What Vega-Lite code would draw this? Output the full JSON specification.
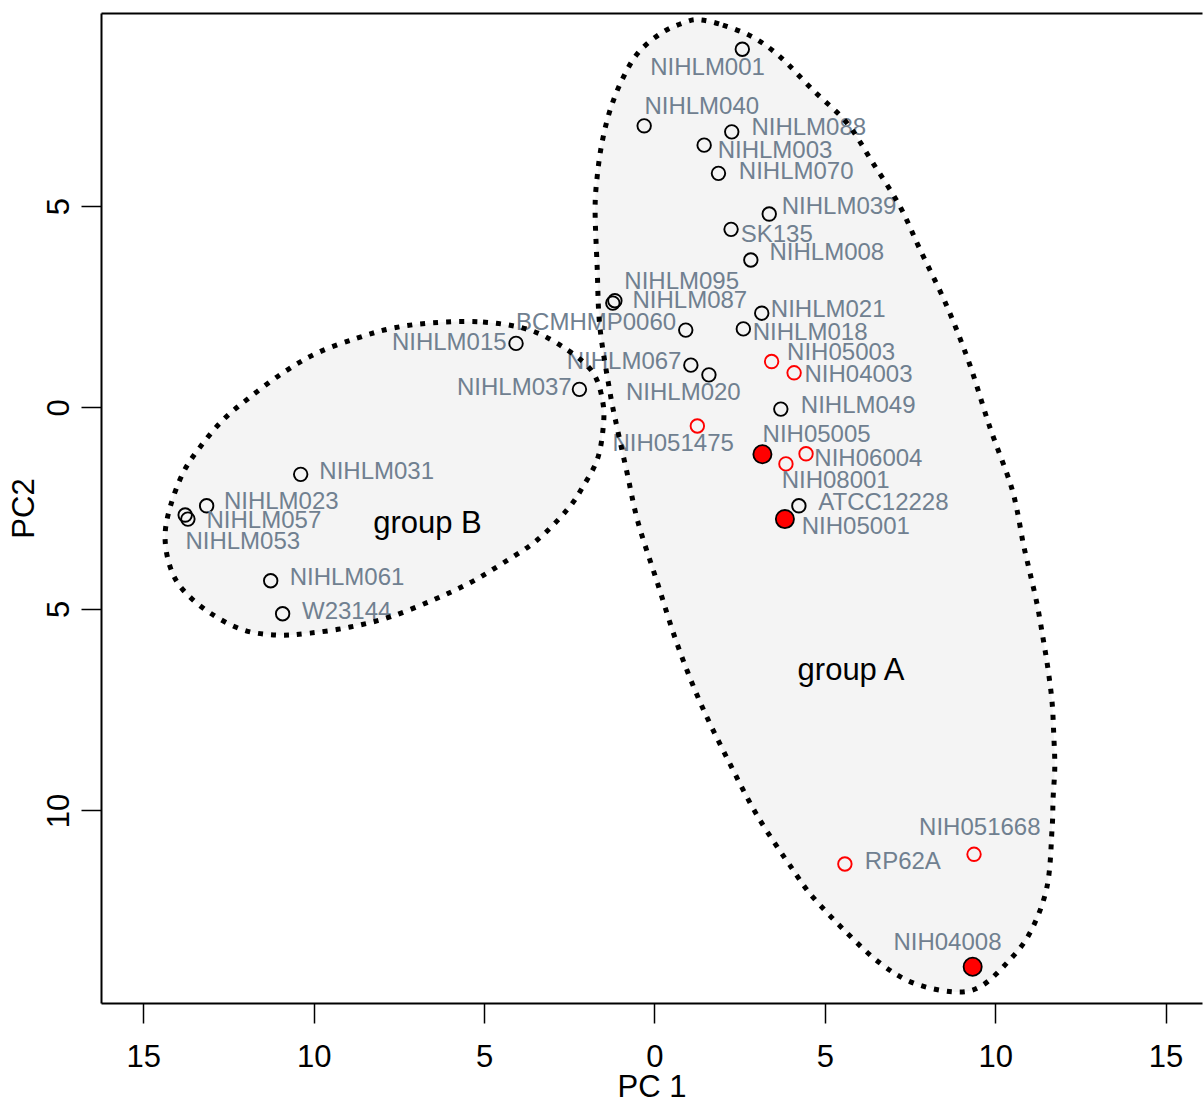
{
  "$schema": "https://vega.github.io/schema/vega-lite/v6.json",
  "width": 1101,
  "height": 990,
  "autosize": "none",
  "padding": {"left": 101, "top": 13, "right": 1, "bottom": 103},
  "background": "white",
  "config": {"view": {"stroke": null}, "font": "Liberation Sans"},
  "datasets": {
    "ellipses": [
      {"g":"A","i":0,"x":1.34,"y":9.62},{"g":"A","i":1,"x":2.01,"y":9.49},{"g":"A","i":2,"x":2.89,"y":9.19},
      {"g":"A","i":3,"x":3.69,"y":8.70},{"g":"A","i":4,"x":4.65,"y":7.88},{"g":"A","i":5,"x":5.65,"y":7.06},
      {"g":"A","i":6,"x":6.41,"y":6.07},{"g":"A","i":7,"x":7.20,"y":5.00},{"g":"A","i":8,"x":7.79,"y":3.93},
      {"g":"A","i":9,"x":8.58,"y":2.52},{"g":"A","i":10,"x":9.26,"y":1.05},{"g":"A","i":11,"x":9.84,"y":-0.48},
      {"g":"A","i":12,"x":10.43,"y":-1.85},{"g":"A","i":13,"x":10.64,"y":-2.54},{"g":"A","i":14,"x":10.82,"y":-3.36},
      {"g":"A","i":15,"x":11.02,"y":-4.10},{"g":"A","i":16,"x":11.23,"y":-4.88},{"g":"A","i":17,"x":11.40,"y":-5.70},
      {"g":"A","i":18,"x":11.55,"y":-6.49},{"g":"A","i":19,"x":11.67,"y":-7.31},{"g":"A","i":20,"x":11.72,"y":-8.13},
      {"g":"A","i":21,"x":11.75,"y":-8.92},{"g":"A","i":22,"x":11.70,"y":-9.70},{"g":"A","i":23,"x":11.67,"y":-10.46},
      {"g":"A","i":24,"x":11.52,"y":-11.90},{"g":"A","i":25,"x":11.02,"y":-13.04},{"g":"A","i":26,"x":10.34,"y":-13.79},
      {"g":"A","i":27,"x":9.55,"y":-14.38},{"g":"A","i":28,"x":8.76,"y":-14.50},{"g":"A","i":29,"x":7.59,"y":-14.28},
      {"g":"A","i":30,"x":6.62,"y":-13.79},{"g":"A","i":31,"x":5.65,"y":-13.04},{"g":"A","i":32,"x":4.65,"y":-12.15},
      {"g":"A","i":33,"x":4.07,"y":-11.48},{"g":"A","i":34,"x":3.04,"y":-10.16},{"g":"A","i":35,"x":2.16,"y":-8.75},
      {"g":"A","i":36,"x":1.34,"y":-7.31},{"g":"A","i":37,"x":0.66,"y":-5.85},{"g":"A","i":38,"x":0.08,"y":-4.33},
      {"g":"A","i":39,"x":-0.48,"y":-2.85},{"g":"A","i":40,"x":-0.80,"y":-1.63},{"g":"A","i":41,"x":-1.10,"y":-0.48},
      {"g":"A","i":42,"x":-1.30,"y":0.36},{"g":"A","i":43,"x":-1.60,"y":2.00},{"g":"A","i":44,"x":-1.68,"y":3.49},
      {"g":"A","i":45,"x":-1.74,"y":4.90},{"g":"A","i":46,"x":-1.68,"y":5.72},{"g":"A","i":47,"x":-1.54,"y":6.56},
      {"g":"A","i":48,"x":-1.30,"y":7.38},{"g":"A","i":49,"x":-0.95,"y":8.13},{"g":"A","i":50,"x":-0.48,"y":8.80},
      {"g":"A","i":51,"x":0.22,"y":9.30},{"g":"A","i":52,"x":0.93,"y":9.57},
      {"g":"B","i":0,"x":-6.50,"y":2.10},{"g":"B","i":1,"x":-5.03,"y":2.12},{"g":"B","i":2,"x":-3.65,"y":1.92},
      {"g":"B","i":3,"x":-2.56,"y":1.43},{"g":"B","i":4,"x":-1.80,"y":0.86},{"g":"B","i":5,"x":-1.51,"y":0.11},
      {"g":"B","i":6,"x":-1.51,"y":-0.56},{"g":"B","i":7,"x":-1.68,"y":-1.30},{"g":"B","i":8,"x":-2.10,"y":-1.97},
      {"g":"B","i":9,"x":-2.56,"y":-2.54},{"g":"B","i":10,"x":-3.44,"y":-3.29},{"g":"B","i":11,"x":-4.44,"y":-3.86},
      {"g":"B","i":12,"x":-5.41,"y":-4.35},{"g":"B","i":13,"x":-6.50,"y":-4.78},{"g":"B","i":14,"x":-7.76,"y":-5.20},
      {"g":"B","i":15,"x":-8.93,"y":-5.45},{"g":"B","i":16,"x":-10.10,"y":-5.60},{"g":"B","i":17,"x":-11.07,"y":-5.65},
      {"g":"B","i":18,"x":-12.07,"y":-5.52},{"g":"B","i":19,"x":-13.04,"y":-5.10},{"g":"B","i":20,"x":-13.83,"y":-4.53},
      {"g":"B","i":21,"x":-14.21,"y":-3.96},{"g":"B","i":22,"x":-14.36,"y":-3.21},{"g":"B","i":23,"x":-14.21,"y":-2.47},
      {"g":"B","i":24,"x":-13.83,"y":-1.62},{"g":"B","i":25,"x":-13.33,"y":-0.98},{"g":"B","i":26,"x":-12.66,"y":-0.31},
      {"g":"B","i":27,"x":-11.86,"y":0.26},{"g":"B","i":28,"x":-10.90,"y":0.86},{"g":"B","i":29,"x":-9.90,"y":1.35},
      {"g":"B","i":30,"x":-8.73,"y":1.72},{"g":"B","i":31,"x":-7.67,"y":1.97}
    ],
    "pts": [
      {"name":"NIHLM001","type":"black","x":2.58,"y":8.89,"lx":1.56,"ly":8.42},
      {"name":"NIHLM040","type":"black","x":-0.30,"y":6.99,"lx":1.39,"ly":7.45},
      {"name":"NIHLM088","type":"black","x":2.27,"y":6.84,"lx":4.53,"ly":6.93},
      {"name":"NIHLM003","type":"black","x":1.46,"y":6.51,"lx":3.54,"ly":6.37},
      {"name":"NIHLM070","type":"black","x":1.88,"y":5.81,"lx":4.16,"ly":5.85},
      {"name":"NIHLM039","type":"black","x":3.37,"y":4.80,"lx":5.42,"ly":4.98},
      {"name":"SK135","type":"black","x":2.25,"y":4.42,"lx":3.59,"ly":4.28},
      {"name":"NIHLM008","type":"black","x":2.83,"y":3.66,"lx":5.06,"ly":3.83},
      {"name":"NIHLM095","type":"black","x":-1.16,"y":2.65,"lx":0.80,"ly":3.12},
      {"name":"NIHLM087","type":"black","x":-1.22,"y":2.59,"lx":1.04,"ly":2.65},
      {"name":"BCMHMP0060","type":"black","x":0.92,"y":1.92,"lx":-1.71,"ly":2.09},
      {"name":"NIHLM015","type":"black","x":-4.06,"y":1.59,"lx":-6.02,"ly":1.61},
      {"name":"NIHLM021","type":"black","x":3.15,"y":2.34,"lx":5.10,"ly":2.42},
      {"name":"NIHLM018","type":"black","x":2.61,"y":1.95,"lx":4.57,"ly":1.86},
      {"name":"NIHLM067","type":"black","x":1.07,"y":1.05,"lx":-0.89,"ly":1.14},
      {"name":"NIHLM020","type":"black","x":1.60,"y":0.81,"lx":0.85,"ly":0.35},
      {"name":"NIHLM037","type":"black","x":-2.20,"y":0.45,"lx":-4.11,"ly":0.48},
      {"name":"NIH05003","type":"red","x":3.44,"y":1.14,"lx":5.48,"ly":1.34},
      {"name":"NIH04003","type":"red","x":4.10,"y":0.86,"lx":5.99,"ly":0.81},
      {"name":"NIHLM049","type":"black","x":3.71,"y":-0.04,"lx":5.98,"ly":0.04},
      {"name":"NIH051475","type":"red","x":1.26,"y":-0.46,"lx":0.55,"ly":-0.91},
      {"name":"NIH05005","type":"filled","x":3.17,"y":-1.16,"lx":4.76,"ly":-0.68},
      {"name":"NIH06004","type":"red","x":4.45,"y":-1.15,"lx":6.28,"ly":-1.28},
      {"name":"NIH08001","type":"red","x":3.86,"y":-1.40,"lx":5.32,"ly":-1.82},
      {"name":"ATCC12228","type":"black","x":4.24,"y":-2.44,"lx":6.72,"ly":-2.38},
      {"name":"NIH05001","type":"filled","x":3.83,"y":-2.77,"lx":5.91,"ly":-2.96},
      {"name":"NIHLM031","type":"black","x":-10.38,"y":-1.66,"lx":-8.15,"ly":-1.61},
      {"name":"NIHLM023","type":"black","x":-13.14,"y":-2.44,"lx":-10.95,"ly":-2.34},
      {"name":"NIHLM057","type":"black","x":-13.77,"y":-2.67,"lx":-11.46,"ly":-2.83},
      {"name":"NIHLM053","type":"black","x":-13.69,"y":-2.77,"lx":-12.08,"ly":-3.33},
      {"name":"NIHLM061","type":"black","x":-11.26,"y":-4.30,"lx":-9.02,"ly":-4.24},
      {"name":"W23144","type":"black","x":-10.91,"y":-5.12,"lx":-9.03,"ly":-5.07},
      {"name":"NIH051668","type":"red","x":9.38,"y":-11.09,"lx":9.55,"ly":-10.44},
      {"name":"RP62A","type":"red","x":5.59,"y":-11.33,"lx":7.29,"ly":-11.27},
      {"name":"NIH04008","type":"filled","x":9.34,"y":-13.88,"lx":8.60,"ly":-13.30}
    ],
    "groups": [
      {"label":"group A","x":5.77,"y":-6.76},
      {"label":"group B","x":-6.66,"y":-3.12}
    ]
  },
  "layer": [
    {
      "data": {"name": "ellipses"},
      "mark": {"type": "line", "interpolate": "cardinal-closed", "fill": "#f4f4f4", "stroke": "#f4f4f4", "strokeWidth": 0},
      "encoding": {
        "x": {"field": "x", "type": "quantitative", "scale": {"domain": [-16.24, 16.07], "nice": false, "zero": false},
          "axis": {"orient": "bottom", "values": [-15, -10, -5, 0, 5, 10, 15], "labelExpr": "format(abs(datum.value), 'd')",
            "grid": false, "domainColor": "#000000", "domainWidth": 2, "tickColor": "#000000", "tickWidth": 1.5, "tickSize": 20,
            "labelFont": "Liberation Sans", "labelFontSize": 31, "labelColor": "#000000", "labelPadding": 19.5,
            "labelFlush": false, "labelOverlap": false,
            "title": "PC 1", "titleFont": "Liberation Sans", "titleFontSize": 31, "titleFontWeight": "normal", "titleColor": "#000000", "titlePadding": 0}},
        "y": {"field": "y", "type": "quantitative", "scale": {"domain": [-14.78, 9.79], "nice": false, "zero": false},
          "axis": {"values": [-10, -5, 0, 5], "labelExpr": "format(abs(datum.value), 'd')",
            "grid": false, "domainColor": "#000000", "domainWidth": 2, "tickColor": "#000000", "tickWidth": 1.5, "tickSize": 20,
            "labelFont": "Liberation Sans", "labelFontSize": 31, "labelColor": "#000000", "labelPadding": 6,
            "labelAngle": -90, "labelAlign": "center", "labelBaseline": "bottom",
            "labelFlush": false, "labelOverlap": false,
            "title": "PC2", "titleFont": "Liberation Sans", "titleFontSize": 31, "titleFontWeight": "normal", "titleColor": "#000000", "titlePadding": 3}},
        "order": {"field": "i", "type": "quantitative"},
        "detail": {"field": "g", "type": "nominal"}
      }
    },
    {
      "data": {"name": "pts"},
      "transform": [{"filter": "datum.type == 'black'"}],
      "mark": {"type": "point", "shape": "circle", "filled": false, "stroke": "#000000", "strokeWidth": 1.9, "size": 182, "opacity": 1},
      "encoding": {
        "x": {"field": "x", "type": "quantitative", "scale": {"domain": [-16.24, 16.07], "nice": false, "zero": false}, "axis": null},
        "y": {"field": "y", "type": "quantitative", "scale": {"domain": [-14.78, 9.79], "nice": false, "zero": false}}
      }
    },
    {
      "data": {"name": "pts"},
      "transform": [{"filter": "datum.type == 'red'"}],
      "mark": {"type": "point", "shape": "circle", "filled": false, "stroke": "#ff0000", "strokeWidth": 1.9, "size": 182, "opacity": 1},
      "encoding": {
        "x": {"field": "x", "type": "quantitative", "scale": {"domain": [-16.24, 16.07], "nice": false, "zero": false}, "axis": null},
        "y": {"field": "y", "type": "quantitative", "scale": {"domain": [-14.78, 9.79], "nice": false, "zero": false}}
      }
    },
    {
      "data": {"name": "pts"},
      "transform": [{"filter": "datum.type == 'filled'"}],
      "mark": {"type": "point", "shape": "circle", "filled": true, "fill": "#ff0000", "stroke": "#000000", "strokeWidth": 1.8, "size": 330, "opacity": 1},
      "encoding": {
        "x": {"field": "x", "type": "quantitative", "scale": {"domain": [-16.24, 16.07], "nice": false, "zero": false}, "axis": null},
        "y": {"field": "y", "type": "quantitative", "scale": {"domain": [-14.78, 9.79], "nice": false, "zero": false}}
      }
    },
    {
      "data": {"name": "pts"},
      "mark": {"type": "text", "font": "Liberation Sans", "fontSize": 24, "color": "#708090", "align": "center", "baseline": "middle"},
      "encoding": {
        "x": {"field": "lx", "type": "quantitative", "scale": {"domain": [-16.24, 16.07], "nice": false, "zero": false}, "axis": null},
        "y": {"field": "ly", "type": "quantitative", "scale": {"domain": [-14.78, 9.79], "nice": false, "zero": false}},
        "text": {"field": "name", "type": "nominal"}
      }
    },
    {
      "data": {"name": "ellipses"},
      "mark": {"type": "line", "interpolate": "cardinal-closed", "stroke": "#000000", "strokeWidth": 5, "strokeDash": [5, 8], "strokeCap": "butt"},
      "encoding": {
        "x": {"field": "x", "type": "quantitative", "scale": {"domain": [-16.24, 16.07], "nice": false, "zero": false},
          "axis": {"orient": "top", "labels": false, "ticks": false, "grid": false, "title": null, "domain": true, "domainColor": "#000000", "domainWidth": 2}},
        "y": {"field": "y", "type": "quantitative", "scale": {"domain": [-14.78, 9.79], "nice": false, "zero": false}},
        "order": {"field": "i", "type": "quantitative"},
        "detail": {"field": "g", "type": "nominal"}
      }
    },
    {
      "data": {"name": "groups"},
      "mark": {"type": "text", "font": "Liberation Sans", "fontSize": 31, "color": "#000000", "align": "center", "baseline": "alphabetic"},
      "encoding": {
        "x": {"field": "x", "type": "quantitative", "scale": {"domain": [-16.24, 16.07], "nice": false, "zero": false}, "axis": null},
        "y": {"field": "y", "type": "quantitative", "scale": {"domain": [-14.78, 9.79], "nice": false, "zero": false}},
        "text": {"field": "label", "type": "nominal"}
      }
    }
  ],
  "resolve": {"axis": {"x": "independent"}}
}
